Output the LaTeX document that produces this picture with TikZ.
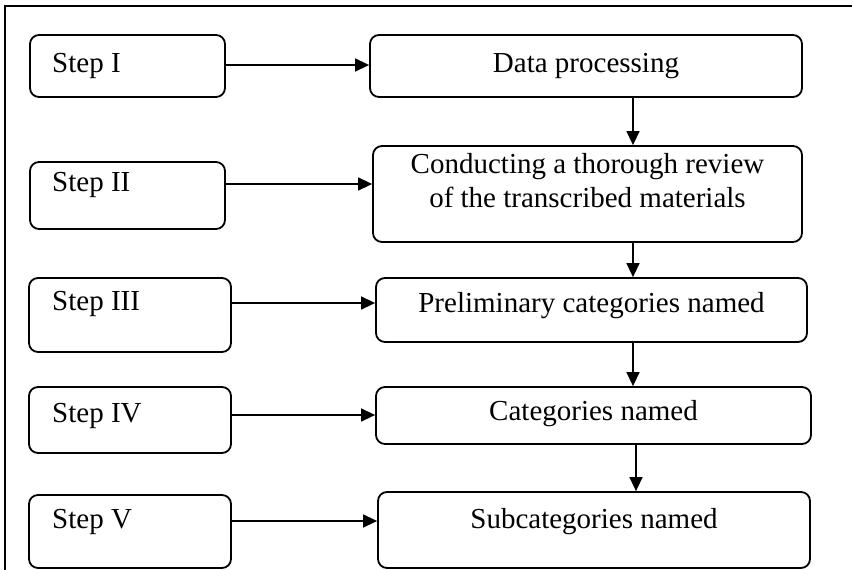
\documentclass[tikz,border=0pt]{standalone}
\usepackage{fontspec}
\setmainfont{Liberation Serif}
\usetikzlibrary{arrows.meta}
\begin{document}
\begin{tikzpicture}[x=1pt,y=-1pt,
  box/.style={draw=black,line width=1.8pt,rounded corners=9pt,inner sep=0pt},
  txt/.style={inner sep=0pt,font=\fontsize{29pt}{34pt}\selectfont},
  conn/.style={line width=1.5pt,-{Triangle[length=14pt,width=13pt]}},
  frame/.style={line width=2pt}]
\useasboundingbox (0,0) rectangle (852,570);
% frame
\coordinate (fb) at (5,572);
\coordinate (fc) at (5,6);
\coordinate (fr) at (854,6);
\draw[frame] (fb) -- (fc) -- (fr);
% arrow levels
\coordinate (a1) at (0,65);
\coordinate (a2) at (0,184);
\coordinate (a3) at (0,303);
\coordinate (a4) at (0,415);
\coordinate (a5) at (0,521);
\coordinate (v1) at (633,0);
\coordinate (v4) at (636,0);
% step boxes
\node[box,minimum width=195pt,minimum height=62pt] (s1) at (127.5,66) {};
\node[box,minimum width=195pt,minimum height=67pt] (s2) at (127.5,195.5) {};
\node[box,minimum width=202pt,minimum height=74pt] (s3) at (130,315) {};
\node[box,minimum width=202pt,minimum height=66pt] (s4) at (130,420) {};
\node[box,minimum width=202pt,minimum height=73pt] (s5) at (130,531.5) {};
\node[txt,anchor=west] (t1) at (52,66) {Step I};
\node[txt,anchor=west] (t2) at (52,185) {Step II};
\node[txt,anchor=west] (t3) at (52,304) {Step III};
\node[txt,anchor=west] (t4) at (52,416) {Step IV};
\node[txt,anchor=west] (t5) at (52,522) {Step V};
% right boxes
\node[box,minimum width=432pt,minimum height=62pt] (r1) at (586,66) {};
\node[box,minimum width=429pt,minimum height=96pt] (r2) at (587.5,194) {};
\node[box,minimum width=431pt,minimum height=64pt] (r3) at (591.5,310) {};
\node[box,minimum width=435pt,minimum height=57pt] (r4) at (593.5,415.5) {};
\node[box,minimum width=432pt,minimum height=76pt] (r5) at (594,530) {};
\node[txt] (u1) at (586,66) {Data processing};
\node[txt,align=center] (u2) at (587.5,181) {Conducting a thorough review\\of the transcribed materials};
\node[txt] (u3) at (591.5,306) {Preliminary categories named};
\node[txt] (u4) at (593.5,414) {Categories named};
\node[txt] (u5) at (594,522) {Subcategories named};
% horizontal arrows
\draw[conn] (s1.east |- a1) -- (r1.west |- a1);
\draw[conn] (s2.east |- a2) -- (r2.west |- a2);
\draw[conn] (s3.east |- a3) -- (r3.west |- a3);
\draw[conn] (s4.east |- a4) -- (r4.west |- a4);
\draw[conn] (s5.east |- a5) -- (r5.west |- a5);
% vertical arrows
\draw[conn] (r1.south -| v1) -- (r2.north -| v1);
\draw[conn] (r2.south -| v1) -- (r3.north -| v1);
\draw[conn] (r3.south -| v1) -- (r4.north -| v1);
\draw[conn] (r4.south -| v4) -- (r5.north -| v4);
\end{tikzpicture}
\end{document}
